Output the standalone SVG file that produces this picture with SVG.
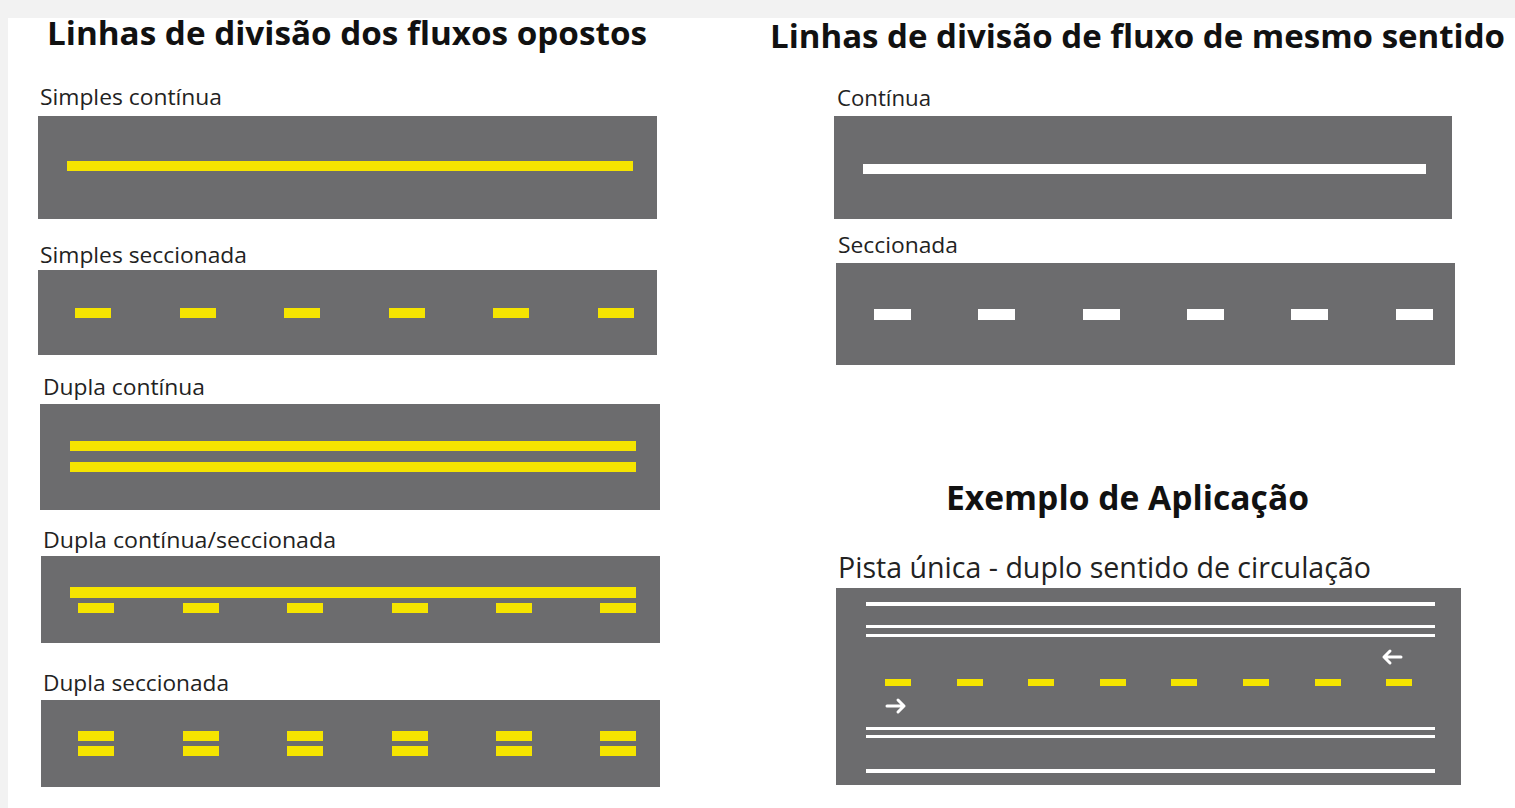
<svg xmlns="http://www.w3.org/2000/svg" width="1515" height="808" viewBox="0 0 1515 808">
<style>
.bg{fill:#f2f2f2}
.road{fill:#6c6c6e}
.y{fill:#f5e400}
.w{fill:#ffffff}
.title{font-family:"Open Sans","Liberation Sans",sans-serif;font-weight:700;fill:#111111}
.lbl{font-family:"Open Sans","Liberation Sans",sans-serif;fill:#222222}
.arrow{fill:none;stroke:#ffffff;stroke-width:3;stroke-linecap:round;stroke-linejoin:round}
</style>
<defs>
<rect id="yd" width="36" height="10" class="y"/>
<rect id="wd" width="37" height="11" class="w"/>
<rect id="yd2" width="26" height="7" class="y"/>
</defs>
<rect x="0" y="0" width="1515" height="808" class="bg"/>
<rect x="8" y="18" width="1507" height="790" fill="#ffffff"/>

<g id="left-title"><text class="title" x="47" y="45" font-size="32" textLength="600" lengthAdjust="spacingAndGlyphs">Linhas de divisão dos fluxos opostos</text></g>
<g id="right-title"><text class="title" x="770" y="48" font-size="32" textLength="735" lengthAdjust="spacingAndGlyphs">Linhas de divisão de fluxo de mesmo sentido</text></g>

<g id="simples-continua">
<text class="lbl" x="40" y="105" font-size="21" textLength="182" lengthAdjust="spacingAndGlyphs">Simples contínua</text>
<rect x="38" y="116" width="619" height="103" class="road"/>
<rect x="67" y="161" width="566" height="10" class="y"/>
</g>

<g id="simples-seccionada">
<text class="lbl" x="40" y="263" font-size="21" textLength="207" lengthAdjust="spacingAndGlyphs">Simples seccionada</text>
<rect x="38" y="270" width="619" height="85" class="road"/>
<use href="#yd" x="75" y="308"/><use href="#yd" x="180" y="308"/><use href="#yd" x="284" y="308"/>
<use href="#yd" x="389" y="308"/><use href="#yd" x="493" y="308"/><use href="#yd" x="598" y="308"/>
</g>

<g id="dupla-continua">
<text class="lbl" x="43" y="395" font-size="21" textLength="162" lengthAdjust="spacingAndGlyphs">Dupla contínua</text>
<rect x="40" y="404" width="620" height="106" class="road"/>
<rect x="70" y="441" width="566" height="10" class="y"/>
<rect x="70" y="462" width="566" height="10" class="y"/>
</g>

<g id="dupla-continua-seccionada">
<text class="lbl" x="43" y="548" font-size="21" textLength="293" lengthAdjust="spacingAndGlyphs">Dupla contínua/seccionada</text>
<rect x="41" y="556" width="619" height="87" class="road"/>
<rect x="70" y="587" width="566" height="11" class="y"/>
<use href="#yd" x="78" y="603"/><use href="#yd" x="183" y="603"/><use href="#yd" x="287" y="603"/>
<use href="#yd" x="392" y="603"/><use href="#yd" x="496" y="603"/><use href="#yd" x="600" y="603"/>
</g>

<g id="dupla-seccionada">
<text class="lbl" x="43" y="691" font-size="21" textLength="186" lengthAdjust="spacingAndGlyphs">Dupla seccionada</text>
<rect x="41" y="700" width="619" height="87" class="road"/>
<use href="#yd" x="78" y="731"/><use href="#yd" x="183" y="731"/><use href="#yd" x="287" y="731"/>
<use href="#yd" x="392" y="731"/><use href="#yd" x="496" y="731"/><use href="#yd" x="600" y="731"/>
<use href="#yd" x="78" y="746"/><use href="#yd" x="183" y="746"/><use href="#yd" x="287" y="746"/>
<use href="#yd" x="392" y="746"/><use href="#yd" x="496" y="746"/><use href="#yd" x="600" y="746"/>
</g>

<g id="continua">
<text class="lbl" x="837" y="106" font-size="21" textLength="94" lengthAdjust="spacingAndGlyphs">Contínua</text>
<rect x="834" y="116" width="618" height="103" class="road"/>
<rect x="863" y="164" width="563" height="10" class="w"/>
</g>

<g id="seccionada">
<text class="lbl" x="838" y="253" font-size="21" textLength="120" lengthAdjust="spacingAndGlyphs">Seccionada</text>
<rect x="836" y="263" width="619" height="102" class="road"/>
<use href="#wd" x="874" y="309"/><use href="#wd" x="978" y="309"/><use href="#wd" x="1083" y="309"/>
<use href="#wd" x="1187" y="309"/><use href="#wd" x="1291" y="309"/><use href="#wd" x="1396" y="309"/>
</g>

<g id="exemplo">
<text class="title" x="946" y="510" font-size="34" textLength="363" lengthAdjust="spacingAndGlyphs">Exemplo de Aplicação</text>
<text class="lbl" x="838" y="578" font-size="30" fill="#111111" textLength="533" lengthAdjust="spacingAndGlyphs">Pista única - duplo sentido de circulação</text>
<rect x="836" y="588" width="625" height="197" class="road"/>
<rect x="866" y="602" width="569" height="4" class="w"/>
<rect x="866" y="625" width="569" height="3" class="w"/>
<rect x="866" y="634" width="569" height="3" class="w"/>
<use href="#yd2" x="885" y="679"/><use href="#yd2" x="957" y="679"/><use href="#yd2" x="1028" y="679"/>
<use href="#yd2" x="1100" y="679"/><use href="#yd2" x="1171" y="679"/><use href="#yd2" x="1243" y="679"/>
<use href="#yd2" x="1315" y="679"/><use href="#yd2" x="1386" y="679"/>
<path class="arrow" d="M1401 657 H1384 M1390 651 L1384 657 L1390 663"/>
<path class="arrow" d="M887 706 H904 M898 700 L904 706 L898 712"/>
<rect x="866" y="727" width="569" height="3" class="w"/>
<rect x="866" y="735" width="569" height="3" class="w"/>
<rect x="866" y="769" width="569" height="4" class="w"/>
</g>
</svg>
